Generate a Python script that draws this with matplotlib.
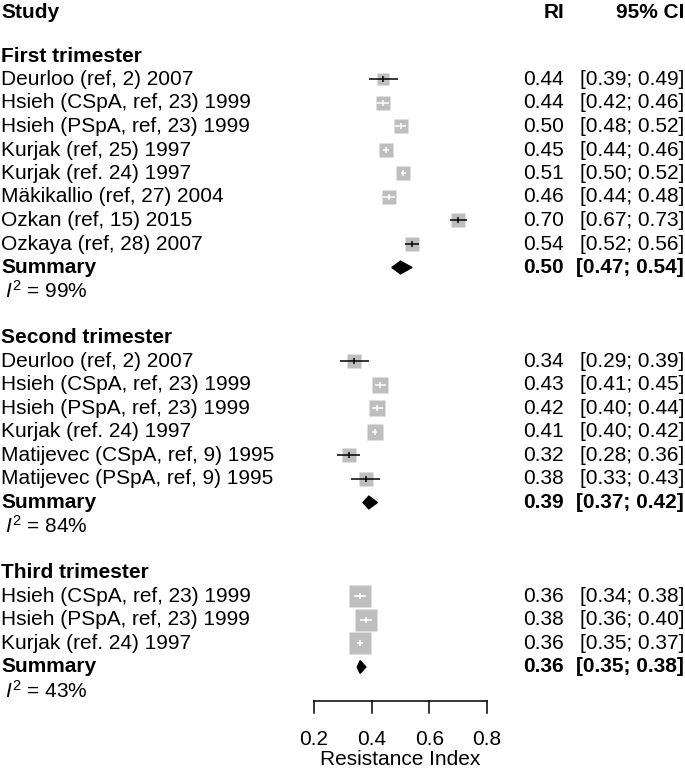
import numpy as np
import matplotlib
matplotlib.use("Agg")
import matplotlib.pyplot as plt
from matplotlib.patches import Polygon

plt.rcParams['font.family'] = ['Liberation Sans', 'DejaVu Sans']
plt.rcParams['mathtext.fontset'] = 'custom'
plt.rcParams['mathtext.rm'] = 'Liberation Sans'
plt.rcParams['mathtext.it'] = 'Liberation Sans:italic'

# --- data -----------------------------------------------------------------
groups = ['First trimester', 'Second trimester', 'Third trimester']

first_studies = ['Deurloo (ref, 2) 2007', 'Hsieh (CSpA, ref, 23) 1999',
                 'Hsieh (PSpA, ref, 23) 1999', 'Kurjak (ref, 25) 1997',
                 'Kurjak (ref. 24) 1997', 'Mäkikallio (ref, 27) 2004',
                 'Ozkan (ref, 15) 2015', 'Ozkaya (ref, 28) 2007']
first_ri = [0.44, 0.44, 0.50, 0.45, 0.51, 0.46, 0.70, 0.54]
first_lo = [0.39, 0.42, 0.48, 0.44, 0.50, 0.44, 0.67, 0.516]
first_hi = [0.49, 0.46, 0.52, 0.46, 0.52, 0.48, 0.73, 0.564]
first_w = [11.8, 12.6, 12.6, 12.7, 12.6, 12.6, 12.4, 12.7]

second_studies = ['Deurloo (ref, 2) 2007', 'Hsieh (CSpA, ref, 23) 1999',
                  'Hsieh (PSpA, ref, 23) 1999', 'Kurjak (ref. 24) 1997',
                  'Matijevec (CSpA, ref, 9) 1995', 'Matijevec (PSpA, ref, 9) 1995']
second_ri = [0.34, 0.43, 0.42, 0.41, 0.32, 0.38]
second_lo = [0.29, 0.41, 0.40, 0.40, 0.28, 0.33]
second_hi = [0.39, 0.45, 0.44, 0.42, 0.36, 0.43]
second_w = [16.0, 17.2, 17.2, 17.4, 16.2, 16.0]

third_studies = ['Hsieh (CSpA, ref, 23) 1999', 'Hsieh (PSpA, ref, 23) 1999',
                 'Kurjak (ref. 24) 1997']
third_ri = [0.36, 0.38, 0.36]
third_lo = [0.34, 0.36, 0.35]
third_hi = [0.38, 0.40, 0.37]
third_w = [32.5, 33.5, 34.0]

summary_ri = [0.50, 0.39, 0.36]
summary_lo = [0.47, 0.37, 0.35]
summary_hi = [0.54, 0.42, 0.38]
i2 = [99, 84, 43]

ticks = [0.2, 0.4, 0.6, 0.8]
xlabel = 'Resistance Index'

# --- layout ---------------------------------------------------------------
W, H = 685, 770
fig = plt.figure(figsize=(W / 100, H / 100), dpi=100)
ax = fig.add_axes([0, 0, 1, 1])
ax.axis('off')

ppu = (487 - 314) / 0.6          # pixels per RI unit
x0 = 0.2 - 314 / ppu
ax.set_xlim(x0, x0 + W / ppu)
row_px = 23.5
top_row = 2 - 56 / row_px
ax.set_ylim(top_row + H / row_px, top_row)

tr = ax.get_yaxis_transform()    # x in axes fraction, y in rows
fs = 15
gray = '#bebebe'
x_left = 1 / W
x_ri = 564 / W
x_ci = 684 / W


def fmt_ci(lo, hi):
    return f'[{lo:.2f}; {hi:.2f}]'


ax.text(x_left, 0.15, 'Study', transform=tr, fontsize=fs, fontweight='bold', va='center')
ax.text(x_ri, 0.15, 'RI', transform=tr, fontsize=fs, fontweight='bold', va='center', ha='right')
ax.text(x_ci, 0.15, '95% CI', transform=tr, fontsize=fs, fontweight='bold', va='center', ha='right')

blocks = [(first_studies, first_ri, first_lo, first_hi, first_w),
          (second_studies, second_ri, second_lo, second_hi, second_w),
          (third_studies, third_ri, third_lo, third_hi, third_w)]

row = 2
for g, (studies, ri, lo, hi, w) in enumerate(blocks):
    ax.text(x_left, row, groups[g], transform=tr, fontsize=fs, fontweight='bold', va='center')
    row += 1
    for name, est, l, h, wt in zip(studies, ri, lo, hi, w):
        ax.text(x_left, row, name, transform=tr, fontsize=fs, va='center')
        ax.text(x_ri, row, f'{est:.2f}', transform=tr, fontsize=fs, va='center', ha='right')
        ax.text(x_ci, row, fmt_ci(l, h), transform=tr, fontsize=fs, va='center', ha='right')
        side_px = 3.7 * np.sqrt(wt)
        ax.plot(est, row, marker='s', ms=side_px * 0.72, color=gray, mec='none', zorder=2)
        col = 'black' if (h - l) * ppu > side_px else 'white'
        ax.plot([l, h], [row, row], color=col, lw=1.1, zorder=3, solid_capstyle='butt')
        ax.plot(est, row, marker='|', ms=4.8, mew=1.1, color=col, zorder=3)
        row += 1
    ax.text(x_left, row, 'Summary', transform=tr, fontsize=fs, fontweight='bold', va='center')
    ax.text(x_ri, row, f'{summary_ri[g]:.2f}', transform=tr, fontsize=fs,
            fontweight='bold', va='center', ha='right')
    ax.text(x_ci, row, fmt_ci(summary_lo[g], summary_hi[g]), transform=tr, fontsize=fs,
            fontweight='bold', va='center', ha='right')
    dh = 0.27
    ax.add_patch(Polygon([(summary_lo[g], row), (summary_ri[g], row - dh),
                          (summary_hi[g], row), (summary_ri[g], row + dh)],
                         closed=True, color='black', zorder=3))
    row += 1
    ax.text(5 / W, row, rf'$I^2$ = {i2[g]}%', transform=tr, fontsize=fs, va='center')
    row += 2

# x axis drawn R-style below the rows
axis_row = 29.45
tick_len = 0.52
ax.plot([ticks[0], ticks[-1]], [axis_row, axis_row], color='black', lw=1.1)
for t in ticks:
    ax.plot([t, t], [axis_row, axis_row + tick_len], color='black', lw=1.1)
    ax.text(t, 31.1, f'{t:.1f}', fontsize=fs, ha='center', va='center')
ax.text(np.mean([ticks[0], ticks[-1]]), 31.92, xlabel, fontsize=fs, ha='center', va='center')

fig.savefig('out.png', dpi=100)
